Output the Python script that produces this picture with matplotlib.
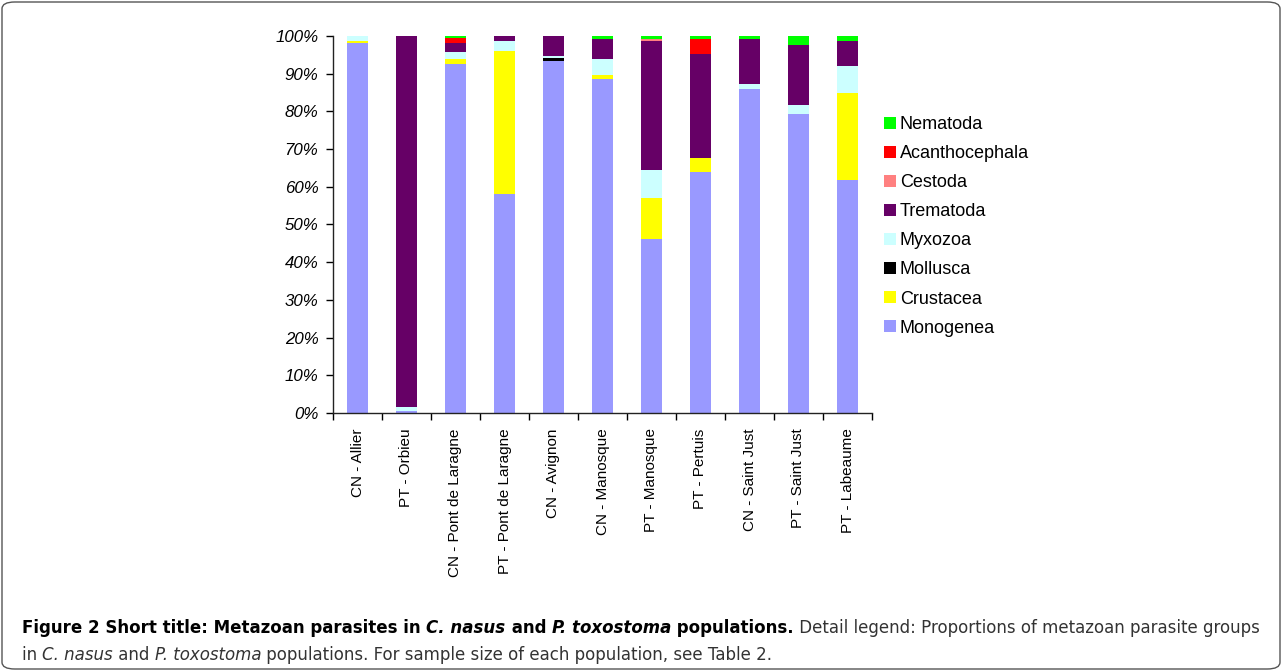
import matplotlib
matplotlib.use("Agg")
import matplotlib.pyplot as plt
from matplotlib.patches import FancyBboxPatch, Patch
from matplotlib.ticker import PercentFormatter, FixedLocator
import numpy as np

populations = ["CN - Allier", "PT - Orbieu", "CN - Pont de Laragne", "PT - Pont de Laragne",
               "CN - Avignon", "CN - Manosque", "PT - Manosque", "PT - Pertuis",
               "CN - Saint Just", "PT - Saint Just", "PT - Labeaume"]

groups = ["Monogenea", "Crustacea", "Mollusca", "Myxozoa", "Trematoda",
          "Cestoda", "Acanthocephala", "Nematoda"]
colors = ["#9999FF", "#FFFF00", "#000000", "#CCFFFF", "#660066",
          "#FF8080", "#FF0000", "#00FF00"]

monogenea      = [98.1, 0.4, 92.6, 58.0, 93.4, 88.6, 46.2, 64.0, 86.0, 79.4, 61.8]
crustacea      = [0.6, 0.0, 1.3, 38.1, 0.0, 1.1, 10.8, 3.6, 0.0, 0.0, 23.1]
mollusca       = [0.0, 0.0, 0.0, 0.0, 0.8, 0.0, 0.0, 0.0, 0.0, 0.0, 0.0]
myxozoa        = [1.3, 1.1, 1.9, 2.6, 0.5, 4.2, 7.5, 0.0, 1.3, 2.3, 7.1]
trematoda      = [0.0, 98.5, 2.3, 1.3, 5.3, 5.3, 34.2, 27.6, 11.9, 15.9, 6.7]
cestoda        = [0.0, 0.0, 0.0, 0.0, 0.0, 0.0, 0.5, 0.0, 0.0, 0.0, 0.0]
acanthocephala = [0.0, 0.0, 1.4, 0.0, 0.0, 0.0, 0.0, 4.0, 0.0, 0.0, 0.0]
nematoda       = [0.0, 0.0, 0.5, 0.0, 0.0, 0.8, 0.8, 0.8, 0.8, 2.4, 1.3]

yticks = [0, 10, 20, 30, 40, 50, 60, 70, 80, 90, 100]

series = [monogenea, crustacea, mollusca, myxozoa, trematoda, cestoda, acanthocephala, nematoda]

W, H = 1282, 671
fig = plt.figure(figsize=(W / 100, H / 100), dpi=100)
plt.rcParams['font.family'] = ['Liberation Sans', 'DejaVu Sans']

# outer rounded frame
frame = FancyBboxPatch((2 / W, 2 / H), (W - 4) / W, (H - 4) / H,
                       boxstyle="round,pad=0,rounding_size=0.01",
                       transform=fig.transFigure, fill=False,
                       edgecolor="#555555", linewidth=1.0)
fig.patches.append(frame)

ax = fig.add_axes([333 / W, 1 - 413 / H, (872 - 333) / W, (413 - 36) / H])
x = np.arange(len(populations))
bottom = np.zeros(len(populations))
for name, vals, col in zip(groups, series, colors):
    v = np.array(vals)
    ax.bar(x, v, bottom=bottom, width=0.41, color=col, label=name, linewidth=0)
    bottom += v

ax.set_xlim(-0.5, len(populations) - 0.5)
ax.set_ylim(0, 100)
ax.set_yticks(yticks)
ax.yaxis.set_major_formatter(PercentFormatter(decimals=0))
for lbl in ax.get_yticklabels():
    lbl.set_fontstyle("italic")
    lbl.set_fontsize(12.2)
ax.tick_params(axis="y", direction="out", length=5, width=1, pad=5.5)

ax.set_xticks(x)
ax.set_xticklabels(populations, rotation=90, fontsize=11)
ax.tick_params(axis="x", which="major", length=0, pad=11)
ax.xaxis.set_minor_locator(FixedLocator(np.arange(-0.5, len(populations), 1.0)))
ax.tick_params(axis="x", which="minor", direction="out", length=5, width=1)

for s in ["top", "right"]:
    ax.spines[s].set_visible(False)
for s in ["left", "bottom"]:
    ax.spines[s].set_color("#222222")
    ax.spines[s].set_linewidth(1.0)

handles = [Patch(facecolor=c, edgecolor="none") for c in colors][::-1]
labels = groups[::-1]
fig.legend(handles, labels, loc="upper left", bbox_to_anchor=(884 / W, 1 - 116 / H),
           frameon=False, fontsize=13, handlelength=0.66, handleheight=0.66,
           handletextpad=0.22, labelspacing=0.67, borderaxespad=0, borderpad=0)

# caption with mixed styles
fig.canvas.draw()
renderer = fig.canvas.get_renderer()
cap_family = ['Liberation Sans Narrow', 'DejaVu Sans']
line1 = [("Figure 2 Short title: Metazoan parasites in ", "bold", "normal", "#000000"),
         ("C. nasus", "bold", "italic", "#000000"),
         (" and ", "bold", "normal", "#000000"),
         ("P. toxostoma", "bold", "italic", "#000000"),
         (" populations.", "bold", "normal", "#000000"),
         (" Detail legend: Proportions of metazoan parasite groups", "normal", "normal", "#333333")]
line2 = [("in ", "normal", "normal", "#333333"),
         ("C. nasus", "normal", "italic", "#333333"),
         (" and ", "normal", "normal", "#333333"),
         ("P. toxostoma", "normal", "italic", "#333333"),
         (" populations. For sample size of each population, see Table 2.", "normal", "normal", "#333333")]


def draw_line(parts, x0, y0, size, draw=True):
    xpos = x0
    arts = []
    for txt, wt, st, col in parts:
        t = fig.text(xpos / W, 1 - y0 / H, txt, fontsize=size, fontweight=wt,
                     fontstyle=st, color=col, family=cap_family, va="baseline", ha="left")
        bb = t.get_window_extent(renderer)
        xpos += bb.width
        arts.append(t)
    if not draw:
        for a in arts:
            a.remove()
    return xpos - x0

size = 12.0
w1 = draw_line(line1, 22, 633, size, draw=False)
size = size * (1258 - 22) / w1
draw_line(line1, 22, 633, size)
draw_line(line2, 22, 660, size)

fig.savefig("out.png", dpi=100)
